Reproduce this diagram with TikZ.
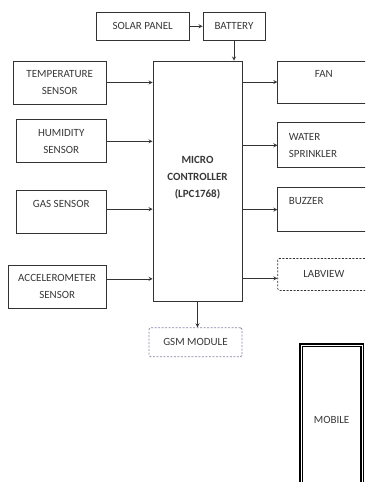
\documentclass[tikz,border=0pt]{standalone}
\usepackage{fontspec}
\setmainfont{Carlito}
\usepackage{tikz}
\usetikzlibrary{arrows, positioning}
\definecolor{linegray}{HTML}{333333}
\definecolor{textgray}{HTML}{383838}
\definecolor{gsmpurple}{HTML}{8E82A8}
\tikzstyle{block} = [rectangle, draw=linegray, line width=0.8pt, inner sep=2pt, text centered, align=center, text=textgray, font=\fontsize{11}{17}\selectfont]
\tikzstyle{sensor} = [block, minimum width=90pt, minimum height=43pt]
\tikzstyle{output} = [block, minimum width=92pt, minimum height=43pt]
\tikzstyle{optional} = [block, dash pattern=on 2pt off 1.5pt, rounded corners=1.5pt]
\tikzstyle{arrow} = [line width=0.8pt, draw=linegray, ->, >=stealth]

\begin{document}
\begin{tikzpicture}[x=1pt, y=-1pt]
\useasboundingbox (0,0) rectangle (365,482);
\clip (0,0) rectangle (365,482);

% Controller
\node (mcu) [block, minimum width=89pt, minimum height=240pt,
  label={[anchor=north, yshift=-92pt, align=center, text=textgray, font=\bfseries\fontsize{11}{17}\selectfont]north:MICRO\\CONTROLLER\\(LPC1768)}] at (197.5,181) {};

% Power
\node (battery) [block, minimum width=62pt, minimum height=28pt, above right=20pt and 50pt of mcu.north west] {BATTERY};
\node (solar) [block, minimum width=93pt, minimum height=28pt, left=13pt of battery] {SOLAR PANEL};

% Sensors (left)
\node (temp) [sensor, minimum width=93pt, below left=0pt and 46pt of mcu.north west] {TEMPERATURE\\SENSOR};
\node (hum) [sensor, below left=15pt and 0pt of temp.south east] {HUMIDITY\\SENSOR};
\node (gas) [sensor, below left=27pt and 0pt of hum.south east] {GAS SENSOR\\\phantom{X}};
\node (accel) [sensor, minimum width=98pt, below left=31pt and 0pt of gas.south east] {ACCELEROMETER\\SENSOR};

% Outputs (right)
\node (fan) [output, minimum height=42pt, below right=0pt and 35pt of mcu.north east] {FAN\\\phantom{X}};
\node (sprinkler) [output, minimum height=45pt, text width=70pt, align=left, below right=19pt and 0pt of fan.south west] {WATER\\SPRINKLER};
\node (buzzer) [output, minimum height=44pt, text width=70pt, align=left, below right=19pt and 0pt of sprinkler.south west] {BUZZER\\\phantom{X}};
\node (labview) [output, optional, minimum height=32pt, below right=26pt and 0pt of buzzer.south west] {LABVIEW};

% Communication
\node (gsm) [optional, draw=gsmpurple, minimum width=93pt, minimum height=29pt, below=26pt of mcu.south, xshift=-2pt] {GSM MODULE};
\node (mobile) [block, draw=black, line width=1.5pt, double=white, double distance=1pt, minimum width=61pt, minimum height=150pt, below right=17pt and 58pt of gsm.north east] {MOBILE};

% Arrows
\draw [arrow] (solar) -- (battery);
\draw [arrow] (battery.south) -- (battery.south |- mcu.north);

\draw [arrow] (temp) -- (temp -| mcu.west);
\draw [arrow] (hum) -- (hum -| mcu.west);
\draw [arrow] ([yshift=3pt]gas.east) -- ([yshift=3pt]gas.east -| mcu.west);
\draw [arrow] ([yshift=8pt]accel.east) -- ([yshift=8pt]accel.east -| mcu.west);

\draw [arrow] (mcu.east |- fan) -- (fan);
\draw [arrow] (mcu.east |- sprinkler) -- (sprinkler);
\draw [arrow] (mcu.east |- buzzer) -- (buzzer);
\draw [arrow] ([yshift=-4pt]mcu.east |- labview) -- ([yshift=-4pt]labview.west);

\draw [arrow] (mcu.south) -- (mcu.south |- gsm.north);

\end{tikzpicture}
\end{document}
